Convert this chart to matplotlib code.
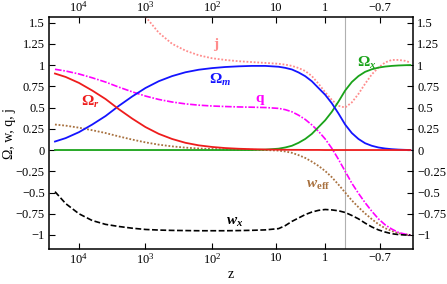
import numpy as np
import matplotlib.pyplot as plt

plt.rcParams['font.family'] = ['Liberation Serif', 'DejaVu Serif']
plt.rcParams['mathtext.fontset'] = 'custom'
plt.rcParams['mathtext.rm'] = 'Liberation Serif'
plt.rcParams['mathtext.it'] = 'Liberation Serif:italic'
plt.rcParams['mathtext.bf'] = 'Liberation Serif:bold'
plt.rcParams['mathtext.bfit'] = 'Liberation Serif:bold:italic'

# sample points in log10(1+z)
lg1z = [4.36, 4.2, 4.0, 3.8, 3.6, 3.4, 3.2, 3.0, 2.8, 2.6, 2.4, 2.2, 2.0, 1.8,
        1.6, 1.4, 1.2, 1.0, 0.9, 0.8, 0.7, 0.6, 0.5, 0.4, 0.3, 0.2, 0.1, 0.0,
        -0.1, -0.2, -0.3, -0.4, -0.5, -0.6, -0.7, -0.8, -0.9, -0.98]

omega_r = [0.90, 0.86, 0.79, 0.70, 0.60, 0.48, 0.37, 0.27, 0.19, 0.13, 0.085,
           0.055, 0.036, 0.023, 0.015, 0.010, 0.006, 0.004, 0.003, 0.002,
           0.002, 0.001, 0.001, 0.001] + [0.0] * 14
omega_m = [0.10, 0.14, 0.21, 0.30, 0.40, 0.52, 0.63, 0.73, 0.81, 0.87, 0.915,
           0.945, 0.964, 0.977, 0.985, 0.99, 0.99, 0.98, 0.967, 0.948, 0.913,
           0.869, 0.809, 0.729, 0.65, 0.55, 0.43, 0.30, 0.20, 0.13, 0.08,
           0.05, 0.03, 0.018, 0.01, 0.005, 0.002, 0.0]
omega_x = [0.0] * 16 + [0.004, 0.016, 0.03, 0.05, 0.085, 0.13, 0.19, 0.27,
                        0.35, 0.45, 0.57, 0.70, 0.80, 0.87, 0.92, 0.95, 0.97,
                        0.982, 0.99, 0.995, 0.998, 1.0]
q = [0.95, 0.93, 0.895, 0.85, 0.80, 0.74, 0.685, 0.635, 0.595, 0.565, 0.543,
     0.528, 0.518, 0.512, 0.507, 0.504, 0.50, 0.49, 0.475, 0.45, 0.41, 0.36,
     0.295, 0.22, 0.13, 0.02, -0.11, -0.25, -0.39, -0.51, -0.62, -0.72,
     -0.81, -0.88, -0.93, -0.97, -0.99, -1.0]
w_eff = [0.30, 0.287, 0.263, 0.233, 0.20, 0.16, 0.123, 0.09, 0.063, 0.043,
         0.028, 0.018, 0.012, 0.008, 0.005, 0.003, 0.0, -0.007, -0.017,
         -0.033, -0.06, -0.093, -0.137, -0.187, -0.247, -0.32, -0.407, -0.50,
         -0.593, -0.673, -0.747, -0.813, -0.873, -0.92, -0.953, -0.98,
         -0.993, -1.0]
w_x = [-0.49, -0.63, -0.75, -0.83, -0.875, -0.90, -0.92, -0.935, -0.942,
       -0.946, -0.948, -0.95, -0.95, -0.95, -0.948, -0.945, -0.94, -0.925,
       -0.89, -0.84, -0.80, -0.76, -0.73, -0.71, -0.70, -0.705, -0.715,
       -0.735, -0.77, -0.81, -0.86, -0.905, -0.94, -0.965, -0.985, -0.995,
       -1.0, -1.0]
# jerk only enters the frame below z ~ 10^3
j = [1.57, 1.38, 1.25, 1.17, 1.115, 1.08, 1.06, 1.045, 1.035, 1.025, 1.015,
     1.005, 0.99, 0.965, 0.93, 0.87, 0.78, 0.68, 0.59, 0.52, 0.50, 0.56,
     0.66, 0.78, 0.89, 0.97, 1.03, 1.06, 1.06, 1.05, 1.03]
lg1z_j = lg1z[7:]

tick_z = [1e4, 1e3, 1e2, 10, 1, -0.7]
tick_labels = [r'$10^4$', r'$10^3$', r'$10^2$', '10', '1', '\u22120.7']
y_ticks = [-1, -0.75, -0.5, -0.25, 0, 0.25, 0.5, 0.75, 1, 1.25, 1.5]
y_labels = ['\u22121', '\u22120.75', '\u22120.5', '\u22120.25', '0', '0.25',
            '0.5', '0.75', '1', '1.25', '1.5']

fig = plt.figure(figsize=(4.47, 2.84), dpi=100)
ax = fig.add_axes([0.1096, 0.1232, 0.8144, 0.8168])

ax.axvline(0.0, color='#b0b0b0', lw=0.8, zorder=1)
ax.plot(lg1z_j, j, color='#ff8c8c', ls=(0, (1, 1)), lw=1.3)
ax.plot(lg1z, w_eff, color='#a8713f', ls=(0, (1, 1)), lw=1.3)
ax.plot(lg1z, q, color='#ff00ff', ls=(0, (4, 1, 1, 1)), lw=1.2)
ax.plot(lg1z, w_x, color='black', ls=(0, (3.5, 1.5)), lw=1.2)
ax.plot(lg1z, omega_x, color='#1aa31a', lw=1.3)
ax.plot(lg1z, omega_m, color='#1414ff', lw=1.3)
ax.plot(lg1z, omega_r, color='#ee1c1c', lw=1.3)

ax.set_xlim(4.45, -1.02)
ax.set_ylim(-1.165, 1.565)

tick_pos = np.log10(1 + np.array(tick_z))
ax.set_xticks(tick_pos)
ax.set_xticklabels(tick_labels)
ax.set_yticks(y_ticks)
ax.set_yticklabels(y_labels)
ax.tick_params(direction='in', length=4, width=0.8, labelsize=9,
               top=True, right=True, labeltop=True, labelright=True, pad=3)
ax.tick_params(axis='x', pad=2)
for s in ax.spines.values():
    s.set_linewidth(1.1)

ax.set_xlabel('z', fontsize=10, labelpad=1)
ax.set_ylabel('\u03a9, w, q, j', fontsize=10, labelpad=0)

ax.text(1.94, 1.24, r'$\mathbf{j}$', color='#ff8c8c', fontsize=11,
        ha='center', va='center')
ax.text(1.88, 0.82, r'$\mathbf{\Omega}_{\mathbfit{m}}$', color='#1414ff',
        fontsize=11, ha='center', va='center')
ax.text(3.83, 0.57, r'$\mathbf{\Omega}_{\mathbfit{r}}$', color='#ee1c1c',
        fontsize=11, ha='center', va='center')
ax.text(1.28, 0.59, r'$\mathbf{q}$', color='#ff00ff', fontsize=11,
        ha='center', va='center')
ax.text(-0.33, 1.03, r'$\mathbf{\Omega}_{\mathbfit{x}}$', color='#1aa31a',
        fontsize=11, ha='center', va='center')
ax.text(0.40, -0.42, r'$\mathbfit{w}_{\mathbf{eff}}$', color='#a8713f',
        fontsize=11, ha='center', va='center')
ax.text(1.66, -0.85, r'$\mathbfit{w}_{\mathbfit{x}}$', color='black',
        fontsize=11, ha='center', va='center')

fig.savefig('out.png', dpi=100)
